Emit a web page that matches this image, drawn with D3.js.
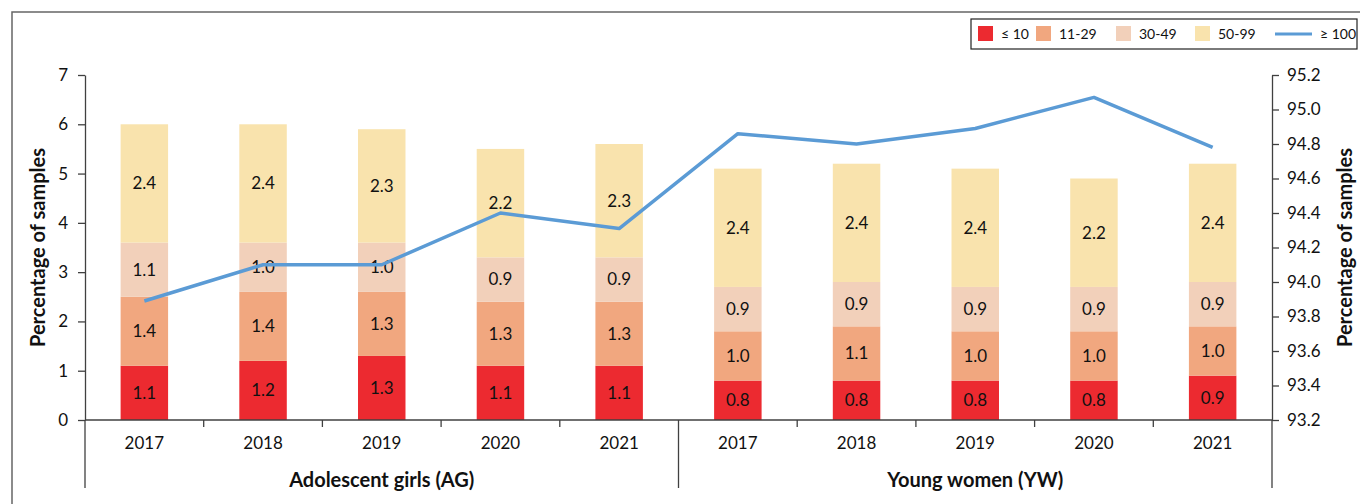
<!DOCTYPE html>
<html>
<head>
<meta charset="utf-8">
<script src="https://d3js.org/d3.v7.min.js"></script>
<style>
body { margin: 0; background: white; }
text { font-family: Lato, "Open Sans", sans-serif; fill: #111; }
.axis path, .axis line { stroke: #404040; stroke-width: 1.3px; }
.axis text { font-size: 17px; fill: #111; }
</style>
</head>
<body>
<svg width="1360" height="504"></svg>
<script>
// data
var years = ["2017", "2018", "2019", "2020", "2021", "2017", "2018", "2019", "2020", "2021"];
var groups = ["Adolescent girls (AG)", "Young women (YW)"];
var bands = ["≤ 10", "11-29", "30-49", "50-99"];
var le10   = [1.1, 1.2, 1.3, 1.1, 1.1, 0.8, 0.8, 0.8, 0.8, 0.9];
var b11_29 = [1.4, 1.4, 1.3, 1.3, 1.3, 1.0, 1.1, 1.0, 1.0, 1.0];
var b30_49 = [1.1, 1.0, 1.0, 0.9, 0.9, 0.9, 0.9, 0.9, 0.9, 0.9];
var b50_99 = [2.4, 2.4, 2.3, 2.2, 2.3, 2.4, 2.4, 2.4, 2.2, 2.4];
var ge100  = [93.89, 94.1, 94.1, 94.4, 94.31, 94.86, 94.8, 94.89, 95.07, 94.78];
var colors = ["#ec2a30", "#f1a77f", "#f2d0ba", "#f9e3ad"];
var lineColor = "#5b9bd5";

var svg = d3.select("svg");
var mLeft = 85, mRight = 1272, mTop = 75, mBottom = 420;

// outer frame
svg.append("rect")
  .attr("x", 12).attr("y", 12)
  .attr("width", 1400).attr("height", 600)
  .style("fill", "none").style("stroke", "#666").style("stroke-width", 1.5);

var idx = d3.range(years.length);
var x = d3.scaleBand().domain(idx).range([mLeft, mRight]).paddingInner(0.6).paddingOuter(0.3);
var y = d3.scaleLinear().domain([0, 7]).range([mBottom, mTop]);
var y2 = d3.scaleLinear().domain([93.2, 95.2]).range([mBottom, mTop]);
var step = x.step();

// stacked bars
var rows = idx.map(function(i) {
  return {i: i, s0: le10[i], s1: b11_29[i], s2: b30_49[i], s3: b50_99[i]};
});
var stack = d3.stack().keys(["s0", "s1", "s2", "s3"])(rows);

var layer = svg.selectAll(".layer").data(stack).enter().append("g")
  .attr("class", "layer");

layer.selectAll("rect").data(function(d) { return d; }).enter().append("rect")
  .attr("x", function(d) { return x(d.data.i); })
  .attr("width", x.bandwidth())
  .attr("y", function(d) { return y(d[1]); })
  .attr("height", function(d) { return y(d[0]) - y(d[1]); })
  .style("fill", function() { return colors[d3.select(this.parentNode).datum().index]; });

layer.selectAll("text").data(function(d) { return d; }).enter().append("text")
  .attr("x", function(d) { return x(d.data.i) + x.bandwidth() / 2; })
  .attr("y", function(d) { return (y(d[0]) + y(d[1])) / 2; })
  .attr("dy", "0.35em")
  .attr("text-anchor", "middle")
  .style("font-size", "17px")
  .text(function(d) { return d3.format(".1f")(d[1] - d[0]); });

// axes
svg.append("g").attr("class", "axis")
  .attr("transform", "translate(" + mLeft + ",0)")
  .call(d3.axisLeft(y).ticks(7).tickSize(7).tickSizeOuter(0).tickPadding(10));

svg.append("g").attr("class", "axis")
  .attr("transform", "translate(" + mRight + ",0)")
  .call(d3.axisRight(y2).tickValues(d3.range(11).map(function(k) { return 93.2 + k * 0.2; }))
    .tickFormat(d3.format(".1f")).tickSize(7).tickSizeOuter(0).tickPadding(8));

// bottom baseline and category ticks
var xb = svg.append("g").attr("class", "axis");
xb.append("line").attr("x1", mLeft).attr("x2", mRight).attr("y1", mBottom).attr("y2", mBottom);
d3.range(years.length + 1).forEach(function(k) {
  var xx = mLeft + k * step;
  var long = (k === 0 || k === 5 || k === 10);
  xb.append("line").attr("x1", xx).attr("x2", xx)
    .attr("y1", mBottom).attr("y2", long ? 488 : mBottom + 7);
});

svg.selectAll(".year").data(years).enter().append("text")
  .attr("class", "year")
  .attr("x", function(d, i) { return x(i) + x.bandwidth() / 2; })
  .attr("y", 443).attr("dy", "0.35em")
  .attr("text-anchor", "middle")
  .style("font-size", "17px")
  .text(function(d) { return d; });

svg.selectAll(".group").data(groups).enter().append("text")
  .attr("class", "group")
  .attr("x", function(d, g) { return mLeft + step * 5 * g + step * 2.5; })
  .attr("y", 480).attr("dy", "0.35em")
  .attr("text-anchor", "middle")
  .style("font-size", "20px").style("font-weight", "bold")
  .text(function(d) { return d; });

// axis titles
svg.append("text")
  .attr("transform", "translate(38," + (mTop + mBottom) / 2 + ") rotate(-90)")
  .attr("dy", "0.35em").attr("text-anchor", "middle")
  .style("font-size", "20px").style("font-weight", "bold")
  .text("Percentage of samples");

svg.append("text")
  .attr("transform", "translate(1345," + (mTop + mBottom) / 2 + ") rotate(-90)")
  .attr("dy", "0.35em").attr("text-anchor", "middle")
  .style("font-size", "20px").style("font-weight", "bold")
  .text("Percentage of samples");

// >= 100 line on right axis
var line = d3.line()
  .x(function(d, i) { return x(i) + x.bandwidth() / 2; })
  .y(function(d) { return y2(d); });
svg.append("path").datum(ge100)
  .attr("d", line)
  .style("fill", "none").style("stroke", lineColor).style("stroke-width", 3.5)
  .style("stroke-linejoin", "round");

// legend
var lg = svg.append("g");
lg.append("rect").attr("x", 971).attr("y", 19).attr("width", 386).attr("height", 30)
  .style("fill", "white").style("stroke", "#222").style("stroke-width", 1.2);
var legX = [978, 1036, 1116, 1195];
bands.forEach(function(b, k) {
  lg.append("rect").attr("x", legX[k]).attr("y", 26).attr("width", 15).attr("height", 15)
    .style("fill", colors[k]);
  lg.append("text").attr("x", legX[k] + 23).attr("y", 34).attr("dy", "0.35em")
    .style("font-size", "14px").text(b);
});
lg.append("line").attr("x1", 1275).attr("x2", 1312).attr("y1", 34).attr("y2", 34)
  .style("stroke", lineColor).style("stroke-width", 3);
lg.append("text").attr("x", 1320).attr("y", 34).attr("dy", "0.35em")
  .style("font-size", "14px").text("≥ 100");
</script>
</body>
</html>
